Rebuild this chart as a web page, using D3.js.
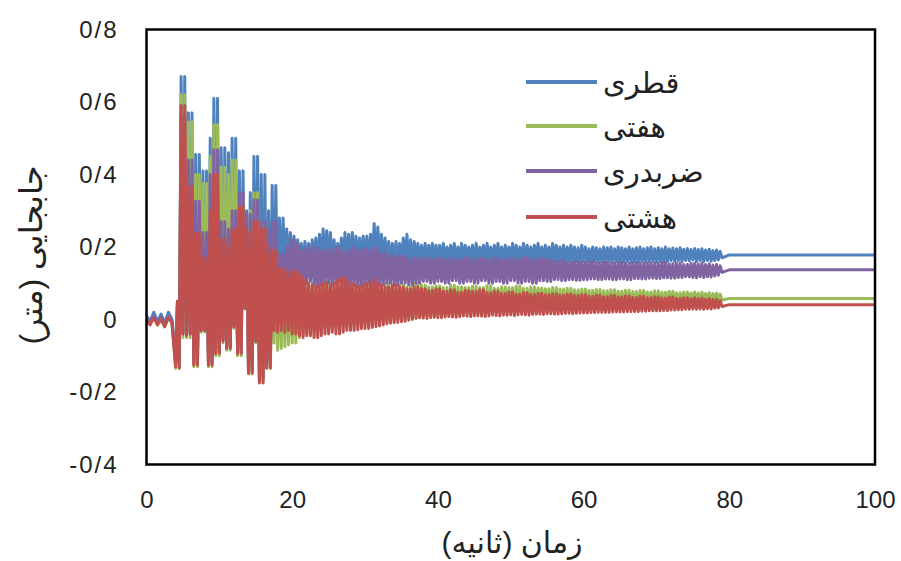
<!DOCTYPE html>
<html><head><meta charset="utf-8">
<script src="https://cdn.jsdelivr.net/npm/d3@7"></script>
<style>body{margin:0;background:#fff}svg{display:block}</style>
</head><body>
<svg id="c" width="901" height="561"></svg>
<script>
// ---------------- data ----------------
// quiet part before the shaking (s)
const timePre = [0,0.5,1,1.5,2,2.5,3,3.5,4];
// dense record: upper samples at x.25/x.75, lower samples at x.5/x.0
const timeDense = [
4.25,4.5,4.75,5,5.25,5.5,5.75,6,6.25,6.5,6.75,7,7.25,7.5,7.75,8,8.25,8.5,8.75,9,
9.25,9.5,9.75,10,10.25,10.5,10.75,11,11.25,11.5,11.75,12,12.25,12.5,12.75,13,13.25,13.5,13.75,14,
14.25,14.5,14.75,15,15.25,15.5,15.75,16,16.25,16.5,16.75,17,17.25,17.5,17.75,18,18.25,18.5,18.75,19,
19.25,19.5,19.75,20,20.25,20.5,20.75,21,21.25,21.5,21.75,22,22.25,22.5,22.75,23,23.25,23.5,23.75,24,
24.25,24.5,24.75,25,25.25,25.5,25.75,26,26.25,26.5,26.75,27,27.25,27.5,27.75,28,28.25,28.5,28.75,29,
29.25,29.5,29.75,30,30.25,30.5,30.75,31,31.25,31.5,31.75,32,32.25,32.5,32.75,33,33.25,33.5,33.75,34,
34.25,34.5,34.75,35,35.25,35.5,35.75,36,36.25,36.5,36.75,37,37.25,37.5,37.75,38,38.25,38.5,38.75,39,
39.25,39.5,39.75,40,40.25,40.5,40.75,41,41.25,41.5,41.75,42,42.25,42.5,42.75,43,43.25,43.5,43.75,44,
44.25,44.5,44.75,45,45.25,45.5,45.75,46,46.25,46.5,46.75,47,47.25,47.5,47.75,48,48.25,48.5,48.75,49,
49.25,49.5,49.75,50,50.25,50.5,50.75,51,51.25,51.5,51.75,52,52.25,52.5,52.75,53,53.25,53.5,53.75,54,
54.25,54.5,54.75,55,55.25,55.5,55.75,56,56.25,56.5,56.75,57,57.25,57.5,57.75,58,58.25,58.5,58.75,59,
59.25,59.5,59.75,60,60.25,60.5,60.75,61,61.25,61.5,61.75,62,62.25,62.5,62.75,63,63.25,63.5,63.75,64,
64.25,64.5,64.75,65,65.25,65.5,65.75,66,66.25,66.5,66.75,67,67.25,67.5,67.75,68,68.25,68.5,68.75,69,
69.25,69.5,69.75,70,70.25,70.5,70.75,71,71.25,71.5,71.75,72,72.25,72.5,72.75,73,73.25,73.5,73.75,74,
74.25,74.5,74.75,75,75.25,75.5,75.75,76,76.25,76.5,76.75,77,77.25,77.5,77.75,78,78.25,78.5,78.75,79];
const timeTail = [80,100];

// ---- قطری (blue) ----
const bluePre = [0.01,-0.005,0.02,-0.005,0.015,-0.01,0.02,0.0,-0.11];
const blueUpper = [
0.05,0.67,0.67,0.57,0.57,0.455,0.455,0.41,0.41,0.5,
0.61,0.61,0.474,0.474,0.46,0.50,0.50,0.41,0.41,0.30,
0.35,0.45,0.45,0.40,0.40,0.30,0.37,0.37,0.28,0.28,
0.25,0.24,
0.23,0.22,0.21,0.215,0.21,0.22,0.225,0.235,0.25,0.245,
0.24,0.22,0.21,0.225,0.24,0.235,0.24,0.23,0.225,0.23,
0.23,0.235,0.265,0.255,0.235,0.225,0.215,0.21,0.215,0.21,
0.225,0.235,0.22,0.215,0.21,0.205,0.21,0.205,0.21,0.205,
0.205,0.21,0.2,0.205,0.21,0.2,0.21,0.205,0.2,0.205,
0.21,0.2,0.205,0.21,0.2,0.205,0.21,0.2,0.205,0.2,
0.21,0.205,0.2,0.21,0.205,0.2,0.205,0.21,0.2,0.205,
0.2,0.21,0.205,0.2,0.205,0.2,0.205,0.2,0.198,0.205,
0.2,0.195,0.2,0.198,0.195,0.2,0.198,0.2,0.195,0.2,
0.198,0.195,0.2,0.195,0.198,0.2,0.195,0.198,0.2,0.195,
0.198,0.195,0.2,0.195,0.197,0.195,0.198,0.194,0.196,0.193,
0.196,0.193,0.195,0.192,0.194,0.19,0.192,0.188];
const blueLower = [
-0.11,-0.03,-0.03,-0.03,-0.11,-0.11,-0.02,-0.02,-0.11,-0.11,
-0.08,-0.08,-0.05,-0.07,-0.07,-0.01,-0.08,-0.08,0.04,-0.13,
-0.13,-0.05,-0.15,-0.15,-0.11,-0.11,-0.02,0.05,0.1,0.13,
0.14,0.15,
0.15,0.145,0.15,0.145,0.15,0.155,0.15,0.145,0.15,0.155,
0.145,0.15,0.155,0.15,0.145,0.15,0.155,0.15,0.155,0.15,
0.15,0.155,0.15,0.155,0.15,0.155,0.15,0.155,0.15,0.155,
0.155,0.15,0.155,0.16,0.155,0.16,0.155,0.16,0.155,0.16,
0.16,0.155,0.16,0.155,0.16,0.155,0.16,0.155,0.16,0.155,
0.155,0.16,0.155,0.16,0.155,0.16,0.155,0.16,0.155,0.16,
0.16,0.155,0.16,0.155,0.16,0.155,0.16,0.155,0.16,0.155,
0.155,0.16,0.155,0.16,0.155,0.16,0.155,0.16,0.155,0.16,
0.16,0.155,0.16,0.158,0.16,0.155,0.16,0.158,0.16,0.158,
0.158,0.16,0.158,0.16,0.158,0.16,0.158,0.16,0.16,0.158,
0.16,0.158,0.16,0.162,0.16,0.162,0.16,0.163,0.162,0.164,
0.16,0.162,0.16,0.163,0.161,0.163,0.165,0.17];
const blueTail = [0.178,0.178];

// ---- هفتی (green) ----
const greenPre = [0.0,-0.01,0.005,-0.015,0.005,-0.02,0.01,-0.01,-0.135];
const greenUpper = [
0.05,0.62,0.62,0.545,0.545,0.40,0.40,0.375,0.375,0.45,
0.537,0.537,0.42,0.42,0.40,0.44,0.44,0.33,0.33,0.26,
0.3,0.35,0.35,0.26,0.26,0.2,0.2,0.17,0.14,0.12,
0.12,0.11,
0.11,0.105,0.1,0.095,0.09,0.1,0.105,0.11,0.115,0.105,
0.1,0.095,0.095,0.09,0.09,0.1,0.1,0.095,0.095,0.1,
0.1,0.105,0.105,0.1,0.095,0.1,0.1,0.095,0.09,0.095,
0.095,0.09,0.09,0.1,0.1,0.095,0.095,0.09,0.09,0.093,
0.093,0.088,0.088,0.095,0.095,0.09,0.09,0.088,0.088,0.092,
0.092,0.088,0.088,0.093,0.093,0.086,0.086,0.09,0.09,0.088,
0.088,0.092,0.092,0.086,0.086,0.09,0.09,0.087,0.087,0.085,
0.085,0.088,0.088,0.084,0.084,0.086,0.086,0.082,0.082,0.084,
0.084,0.08,0.08,0.083,0.083,0.079,0.079,0.082,0.082,0.078,
0.078,0.081,0.081,0.077,0.077,0.08,0.08,0.076,0.076,0.079,
0.079,0.075,0.075,0.078,0.078,0.074,0.074,0.076,0.076,0.073,
0.076,0.073,0.075,0.072,0.074,0.072,0.073,0.07];
const greenLower = [
-0.135,-0.05,-0.05,-0.05,-0.13,-0.13,-0.035,-0.035,-0.13,-0.13,
-0.1,-0.1,-0.065,-0.085,-0.085,-0.025,-0.1,-0.1,0.03,-0.15,
-0.15,-0.065,-0.17,-0.17,-0.135,-0.135,-0.065,-0.085,-0.08,-0.075,
-0.07,-0.065,
-0.065,-0.05,-0.045,-0.04,-0.035,-0.035,-0.03,-0.03,-0.025,-0.025,
-0.025,-0.02,-0.02,-0.02,-0.02,-0.015,-0.015,-0.015,-0.015,-0.01,
-0.01,-0.01,-0.01,-0.005,-0.005,-0.005,-0.005,0.0,0.0,0.0,
0.0,0.005,0.005,0.005,0.005,0.01,0.01,0.01,0.01,0.012,
0.012,0.012,0.012,0.015,0.015,0.015,0.015,0.018,0.018,0.018,
0.018,0.02,0.02,0.02,0.02,0.02,0.02,0.022,0.022,0.022,
0.022,0.024,0.024,0.024,0.024,0.025,0.025,0.026,0.026,0.026,
0.026,0.028,0.028,0.028,0.028,0.03,0.03,0.03,0.03,0.03,
0.03,0.032,0.032,0.032,0.032,0.033,0.033,0.034,0.034,0.034,
0.034,0.035,0.035,0.036,0.036,0.036,0.036,0.038,0.038,0.038,
0.038,0.04,0.04,0.04,0.04,0.042,0.042,0.044,0.044,0.045,
0.045,0.046,0.046,0.047,0.047,0.048,0.05,0.054];
const greenTail = [0.058,0.058];

// ---- ضربدری (purple) ----
const purplePre = [0.005,-0.008,0.008,-0.01,0.008,-0.015,0.01,-0.005,-0.12];
const purpleUpper = [
0.05,0.56,0.56,0.44,0.44,0.326,0.326,0.24,0.24,0.4,
0.468,0.468,0.27,0.27,0.25,0.30,0.30,0.35,0.35,0.29,
0.29,0.33,0.33,0.27,0.27,0.25,0.27,0.27,0.18,0.18,
0.2,0.22,
0.22,0.21,0.19,0.195,0.2,0.195,0.2,0.19,0.19,0.195,
0.19,0.195,0.2,0.19,0.185,0.19,0.2,0.195,0.19,0.195,
0.195,0.19,0.2,0.195,0.18,0.185,0.175,0.18,0.17,0.175,
0.175,0.17,0.165,0.17,0.17,0.165,0.168,0.17,0.165,0.168,
0.17,0.165,0.165,0.168,0.168,0.165,0.165,0.17,0.17,0.165,
0.165,0.168,0.168,0.165,0.165,0.17,0.17,0.165,0.165,0.168,
0.168,0.165,0.165,0.17,0.17,0.165,0.165,0.168,0.168,0.165,
0.165,0.162,0.16,0.162,0.162,0.158,0.158,0.16,0.16,0.158,
0.158,0.16,0.16,0.156,0.156,0.158,0.158,0.156,0.156,0.158,
0.158,0.155,0.155,0.157,0.157,0.155,0.155,0.156,0.156,0.155,
0.155,0.157,0.157,0.154,0.154,0.155,0.155,0.152,0.152,0.155,
0.155,0.153,0.155,0.152,0.154,0.15,0.152,0.148];
const purpleLower = [
-0.12,-0.04,-0.04,-0.04,-0.12,-0.12,-0.03,-0.03,-0.12,-0.12,
-0.09,-0.09,-0.055,-0.075,-0.075,-0.02,-0.09,-0.09,0.03,-0.14,
-0.14,-0.06,-0.16,-0.16,-0.12,-0.12,-0.03,0.0,0.05,0.08,
0.09,0.1,
0.1,0.1,0.095,0.1,0.105,0.095,0.09,0.095,0.1,0.1,
0.095,0.1,0.105,0.1,0.09,0.095,0.095,0.09,0.09,0.095,
0.1,0.095,0.09,0.095,0.095,0.1,0.1,0.095,0.095,0.1,
0.1,0.095,0.095,0.1,0.1,0.105,0.105,0.1,0.1,0.105,
0.105,0.1,0.1,0.107,0.107,0.1,0.1,0.105,0.105,0.1,
0.1,0.107,0.107,0.1,0.1,0.105,0.105,0.1,0.1,0.107,
0.107,0.1,0.1,0.105,0.105,0.1,0.1,0.107,0.107,0.105,
0.105,0.11,0.11,0.107,0.107,0.11,0.11,0.108,0.108,0.11,
0.11,0.112,0.112,0.11,0.11,0.112,0.112,0.11,0.11,0.112,
0.112,0.11,0.11,0.113,0.113,0.112,0.112,0.114,0.114,0.113,
0.113,0.115,0.115,0.114,0.114,0.116,0.116,0.118,0.118,0.116,
0.115,0.118,0.116,0.118,0.117,0.12,0.122,0.13];
const purpleTail = [0.137,0.137];

// ---- هشتی (red) ----
const redPre = [0.0,-0.015,0.005,-0.015,0.0,-0.02,0.005,-0.01,-0.13];
const redUpper = [
0.05,0.59,0.59,0.367,0.367,0.238,0.238,0.17,0.17,0.3,
0.40,0.40,0.22,0.22,0.2,0.25,0.25,0.31,0.31,0.25,
0.24,0.27,0.27,0.25,0.25,0.2,0.19,0.19,0.14,0.14,
0.13,0.134,
0.134,0.13,0.12,0.11,0.1,0.095,0.09,0.095,0.1,0.1,
0.095,0.1,0.11,0.115,0.115,0.105,0.1,0.095,0.09,0.095,
0.1,0.105,0.11,0.1,0.095,0.09,0.09,0.095,0.095,0.09,
0.09,0.085,0.085,0.09,0.09,0.085,0.085,0.08,0.08,0.085,
0.085,0.078,0.078,0.082,0.082,0.075,0.075,0.08,0.08,0.077,
0.077,0.082,0.082,0.074,0.074,0.078,0.078,0.072,0.072,0.076,
0.076,0.07,0.07,0.074,0.074,0.069,0.069,0.072,0.072,0.068,
0.068,0.071,0.071,0.067,0.067,0.07,0.07,0.066,0.066,0.068,
0.068,0.064,0.064,0.067,0.067,0.063,0.063,0.066,0.066,0.062,
0.062,0.065,0.065,0.061,0.061,0.064,0.064,0.06,0.06,0.063,
0.063,0.059,0.059,0.062,0.062,0.058,0.058,0.06,0.06,0.057,
0.06,0.057,0.059,0.056,0.058,0.055,0.056,0.052];
const redLower = [
-0.134,-0.04,-0.044,-0.04,-0.126,-0.126,-0.03,-0.03,-0.126,-0.126,
-0.094,-0.094,-0.06,-0.08,-0.08,-0.02,-0.094,-0.094,0.034,-0.148,
-0.148,-0.06,-0.175,-0.175,-0.134,-0.134,-0.03,-0.035,-0.03,-0.035,
-0.03,-0.04,
-0.04,-0.045,-0.05,-0.045,-0.045,-0.05,-0.05,-0.045,-0.04,-0.04,
-0.035,-0.04,-0.04,-0.035,-0.03,-0.03,-0.03,-0.028,-0.025,-0.025,
-0.025,-0.022,-0.02,-0.018,-0.015,-0.012,-0.01,-0.009,-0.008,-0.006,
-0.005,-0.002,0.0,0.003,0.005,0.004,0.003,0.005,0.006,0.005,
0.005,0.007,0.008,0.007,0.006,0.008,0.01,0.009,0.008,0.01,
0.01,0.009,0.008,0.01,0.012,0.011,0.01,0.012,0.012,0.013,
0.011,0.013,0.014,0.013,0.012,0.014,0.015,0.015,0.014,0.016,
0.016,0.015,0.015,0.016,0.017,0.017,0.016,0.017,0.018,0.018,
0.018,0.019,0.019,0.02,0.02,0.02,0.02,0.021,0.021,0.021,
0.021,0.022,0.022,0.022,0.022,0.023,0.023,0.024,0.024,0.024,
0.024,0.025,0.025,0.026,0.026,0.027,0.027,0.028,0.028,0.029,
0.028,0.029,0.028,0.03,0.029,0.031,0.032,0.036];
const redTail = [0.041,0.041];

const seriesNames = ["قطری","هفتی","ضربدری","هشتی"];
const seriesColors = ["#4F81BD","#9BBB59","#8064A2","#C0504D"];
const yTickValues = [-0.4,-0.2,0,0.2,0.4,0.6,0.8];
const yTickLabels = ["-0/4","-0/2","0","0/2","0/4","0/6","0/8"];
const xTickValues = [0,20,40,60,80,100];
const xTickLabels = ["0","20","40","60","80","100"];
const xTitle = "زمان (ثانیه)";
const yTitle = "جابجایی (متر)";

// ---------------- build ----------------
function interleave(up, lo){ const out=[]; up.forEach((u,k)=>{ out.push(u); out.push(lo[k]); }); return out; }
const time = timePre.concat(timeDense, timeTail);
const seriesValues = [
  bluePre.concat(interleave(blueUpper, blueLower), blueTail),
  greenPre.concat(interleave(greenUpper, greenLower), greenTail),
  purplePre.concat(interleave(purpleUpper, purpleLower), purpleTail),
  redPre.concat(interleave(redUpper, redLower), redTail)
];

const plot = {left:146.5, right:875, top:29.5, bottom:464.5};
const x = d3.scaleLinear().domain([0,100]).range([plot.left, plot.right]);
const y = d3.scaleLinear().domain([-0.4,0.8]).range([plot.bottom, plot.top]);
const FONT = "'Liberation Sans', Arial, 'DejaVu Sans', sans-serif";

const svg = d3.select("#c");
svg.append("rect").attr("width",901).attr("height",561).attr("fill","#fff");
svg.append("clipPath").attr("id","clip").append("rect")
  .attr("x",plot.left).attr("y",plot.top)
  .attr("width",plot.right-plot.left).attr("height",plot.bottom-plot.top);

const line = d3.line().x(d=>x(d[0])).y(d=>y(d[1]));
const g = svg.append("g").attr("clip-path","url(#clip)");
seriesValues.forEach((vals,i)=>{
  const pts = time.map((t,j)=>[t, vals[j]]).filter(p=>p[1]!==undefined);
  g.append("path").datum(pts)
    .attr("d",line).attr("fill","none")
    .attr("stroke",seriesColors[i]).attr("stroke-width",3)
    .attr("stroke-linejoin","round");
});

svg.append("rect").attr("x",plot.left).attr("y",plot.top)
  .attr("width",plot.right-plot.left).attr("height",plot.bottom-plot.top)
  .attr("fill","none").attr("stroke","#000").attr("stroke-width",2.5);

const yAxis = svg.append("g").attr("transform",`translate(${plot.left},0)`)
  .call(d3.axisLeft(y).tickValues(yTickValues).tickFormat((d,i)=>yTickLabels[i]).tickSize(0).tickPadding(28));
yAxis.select(".domain").remove();
yAxis.selectAll("text").attr("font-family",FONT).attr("font-size",24).attr("fill","#222")
  .attr("letter-spacing","2px");

const xAxis = svg.append("g").attr("transform",`translate(0,${plot.bottom})`)
  .call(d3.axisBottom(x).tickValues(xTickValues).tickFormat((d,i)=>xTickLabels[i]).tickSize(0).tickPadding(26));
xAxis.select(".domain").remove();
xAxis.selectAll("text").attr("font-family",FONT).attr("font-size",24).attr("fill","#222");

svg.append("text").attr("x",512).attr("y",553).attr("text-anchor","middle")
  .attr("font-family",FONT).attr("font-size",30).attr("fill","#222").text(xTitle);
svg.append("text").attr("transform","translate(42,255) rotate(-90)").attr("text-anchor","middle")
  .attr("font-family",FONT).attr("font-size",32).attr("fill","#222").text(yTitle);

const legY = [82,126,171,217];
seriesNames.forEach((n,i)=>{
  svg.append("line").attr("x1",526).attr("x2",597).attr("y1",legY[i]).attr("y2",legY[i])
    .attr("stroke",seriesColors[i]).attr("stroke-width",4);
  svg.append("text").attr("x",603).attr("y",legY[i]+11).attr("text-anchor","start")
    .attr("font-family",FONT).attr("font-size",29).attr("fill","#222").text(n);
});
</script>
</body></html>
